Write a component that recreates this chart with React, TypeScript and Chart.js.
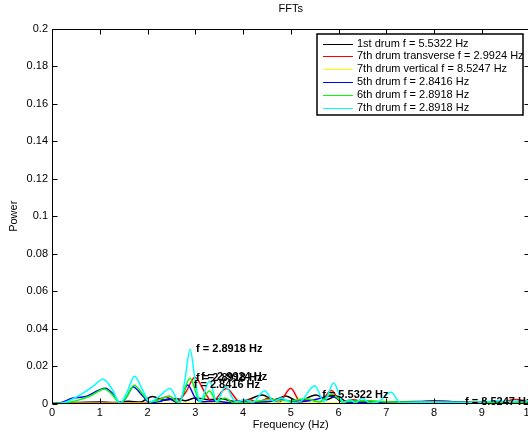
import React, { useEffect, useRef } from 'react';
import { Chart, registerables } from 'chart.js';

Chart.register(...registerables);

// ---------- Data ----------
const xTickValues = [0, 1, 2, 3, 4, 5, 6, 7, 8, 9, 10];
const yTickValues = [0, 0.02, 0.04, 0.06, 0.08, 0.1, 0.12, 0.14, 0.16, 0.18, 0.2];

const seriesNames = [
  '1st drum f = 5.5322 Hz',
  '7th drum transverse f = 2.9924 Hz',
  '7th drum vertical f = 8.5247 Hz',
  '5th drum f = 2.8416 Hz',
  '6th drum f = 2.8918 Hz',
  '7th drum f = 2.8918 Hz',
];
const seriesColors = ['#000000', '#ff0000', '#ffff00', '#0000ff', '#00ff00', '#00ffff'];

const drum1Freq = [0, 0.5, 1.0, 1.3, 1.6, 1.85, 2.1, 2.35, 2.6, 2.8, 3.0, 3.3, 3.55, 3.8, 4.1, 4.4, 4.65, 4.9, 5.15, 5.5322, 5.75, 5.95, 6.2, 6.4, 7.0, 7.5, 8.0, 9.0, 9.5, 10];
const drum1Power = [0, 0.0005, 0.0008, 0.0005, 0.0012, 0.0008, 0.0038, 0.0018, 0.0025, 0.0015, 0.003, 0.002, 0.0025, 0.0012, 0.002, 0.0045, 0.002, 0.004, 0.0012, 0.0046, 0.002, 0.004, 0.0008, 0.0015, 0.0008, 0.0005, 0.0008, 0.0005, 0.001, 0.0005];

const drum7tFreq = [0, 1.5, 2.0, 2.2, 2.4, 2.6, 2.8, 2.9924, 3.2, 3.35, 3.65, 3.95, 4.15, 4.3, 4.55, 4.75, 5.0, 5.2, 5.4, 5.6, 5.85, 6.05, 6.3, 6.6, 7.0, 7.5, 8.0, 8.5, 9.0, 9.4, 9.7, 10];
const drum7tPower = [0, 0.0003, 0.0005, 0.002, 0.0035, 0.0008, 0.006, 0.014, 0.006, 0.001, 0.008, 0.0005, 0.002, 0.0005, 0.003, 0.0005, 0.0082, 0.001, 0.002, 0.0005, 0.007, 0.001, 0.002, 0.0005, 0.001, 0.0005, 0.0015, 0.0008, 0.001, 0.0008, 0.0022, 0.001];

const drum7vFreq = [0, 1, 3, 5, 7, 8, 8.5247, 9, 10];
const drum7vPower = [0, 0.0002, 0.0003, 0.0003, 0.0004, 0.0006, 0.0009, 0.0006, 0.0004];

const drum5Freq = [0, 0.2, 0.42, 0.7, 1.12, 1.28, 1.43, 1.55, 1.7, 1.9, 2.05, 2.25, 2.45, 2.65, 2.8416, 3.0, 3.15, 3.4, 3.7, 4.0, 4.5, 4.8, 5.1, 5.5, 5.85, 6.1, 6.6, 7.0, 8.1, 9.0, 10];
const drum5Power = [0, 0.0005, 0.0028, 0.0037, 0.0082, 0.005, 0.0002, 0.003, 0.0088, 0.004, 0.0005, 0.001, 0.0025, 0.0003, 0.0099, 0.003, 0.001, 0.0012, 0.0006, 0.0008, 0.001, 0.002, 0.0008, 0.002, 0.004, 0.0008, 0.0005, 0.0008, 0.0012, 0.0005, 0.0005];

const drum6Freq = [0, 0.3, 0.55, 0.8, 1.1, 1.25, 1.43, 1.57, 1.72, 1.9, 2.05, 2.25, 2.45, 2.65, 2.8918, 3.1, 3.3, 3.45, 3.62, 3.8, 4.2, 4.6, 5.0, 5.3, 5.6, 5.85, 6.1, 6.5, 7.0, 8.0, 9.0, 10];
const drum6Power = [0, 0.0005, 0.0018, 0.004, 0.0078, 0.005, 0.0002, 0.004, 0.0098, 0.005, 0.0008, 0.002, 0.004, 0.0005, 0.0135, 0.001, 0.0067, 0.001, 0.003, 0.0005, 0.001, 0.002, 0.0015, 0.0025, 0.001, 0.005, 0.001, 0.0015, 0.001, 0.0008, 0.0005, 0.0005];

const drum7Freq = [0, 0.2, 0.4, 0.65, 0.85, 1.07, 1.25, 1.43, 1.57, 1.73, 1.9, 2.05, 2.25, 2.47, 2.68, 2.78, 2.8918, 3.0, 3.1, 3.3, 3.45, 3.63, 3.85, 4.05, 4.2, 4.45, 4.65, 4.8, 5.0, 5.2, 5.5, 5.7, 5.9, 6.1, 6.25, 6.35, 6.5, 6.65, 6.8, 7.1, 7.3, 7.6, 8.0, 8.5, 9.0, 9.3, 9.6, 10];
const drum7Power = [0, 0.0002, 0.002, 0.0055, 0.009, 0.013, 0.008, 0.0002, 0.006, 0.0145, 0.007, 0.0008, 0.004, 0.008, 0.0003, 0.012, 0.029, 0.012, 0.001, 0.012, 0.001, 0.009, 0.001, 0.002, 0.0005, 0.0068, 0.001, 0.003, 0.0005, 0.001, 0.0095, 0.001, 0.011, 0.0005, 0.002, 0.0003, 0.003, 0.0003, 0.0005, 0.006, 0.0003, 0.0005, 0.0008, 0.0005, 0.0008, 0.0015, 0.001, 0.0015];

// peak annotations (frequency, power, text)
const annFreq = [5.5322, 2.9924, 8.5247, 2.8416, 2.8918, 2.8918];
const annPower = [0.0046, 0.014, 0.0009, 0.0099, 0.0135, 0.029];
const annText = ['f = 5.5322 Hz', 'f = 2.9924 Hz', 'f = 8.5247 Hz', 'f = 2.8416 Hz', 'f = 2.8918 Hz', 'f = 2.8918 Hz'];

const FONT = 'Liberation Sans, Arial, Helvetica, sans-serif';

const seriesFreqs = [drum1Freq, drum7tFreq, drum7vFreq, drum5Freq, drum6Freq, drum7Freq];
const seriesPowers = [drum1Power, drum7tPower, drum7vPower, drum5Power, drum6Power, drum7Power];

const framePlugin = {
  id: 'matlabFrame',
  afterDatasetsDraw(chart: any) {
    const { ctx, chartArea, scales } = chart;
    const { left, right, top, bottom } = chartArea;
    const xs = scales.x;
    const ys = scales.y;
    ctx.save();
    // annotations
    ctx.fillStyle = '#000';
    ctx.font = `bold 11px ${FONT}`;
    ctx.textAlign = 'left';
    ctx.textBaseline = 'middle';
    for (let i = 0; i < annFreq.length; i++) {
      ctx.fillText(annText[i], xs.getPixelForValue(annFreq[i]) + 6, ys.getPixelForValue(annPower[i]));
    }
    // frame
    ctx.strokeStyle = '#000';
    ctx.lineWidth = 1;
    const L = Math.round(left) + 0.5;
    const R = Math.round(right) - 0.5;
    const T = Math.round(top) + 0.5;
    const B = Math.round(bottom) - 0.5;
    ctx.strokeRect(L, T, R - L, B - T);
    ctx.beginPath();
    xTickValues.forEach((v) => {
      const px = Math.round(xs.getPixelForValue(v)) + 0.5;
      ctx.moveTo(px, B);
      ctx.lineTo(px, B - 5);
      ctx.moveTo(px, T);
      ctx.lineTo(px, T + 5);
    });
    yTickValues.forEach((v) => {
      const py = Math.round(ys.getPixelForValue(v)) + 0.5;
      ctx.moveTo(L, py);
      ctx.lineTo(L + 5, py);
      ctx.moveTo(R, py);
      ctx.lineTo(R - 5, py);
    });
    ctx.stroke();
    // title
    ctx.font = `11px ${FONT}`;
    ctx.textAlign = 'center';
    ctx.fillText('FFTs', (left + right) / 2, 9);
    // legend
    const bx = 317, by = 34, bw = 206, bh = 81;
    ctx.fillStyle = '#fff';
    ctx.fillRect(bx, by, bw, bh);
    ctx.lineWidth = 1.5;
    ctx.strokeStyle = '#000';
    ctx.strokeRect(bx, by, bw, bh);
    ctx.textAlign = 'left';
    ctx.font = `11px ${FONT}`;
    seriesNames.forEach((name, i) => {
      const yy = by + 9.5 + i * 12.8;
      ctx.strokeStyle = seriesColors[i];
      ctx.lineWidth = 1;
      ctx.beginPath();
      ctx.moveTo(323, Math.round(yy) + 0.5);
      ctx.lineTo(353, Math.round(yy) + 0.5);
      ctx.stroke();
      ctx.fillStyle = '#000';
      ctx.fillText(name, 357, yy);
    });
    ctx.restore();
  },
};

export default function App() {
  const ref = useRef<HTMLCanvasElement | null>(null);
  useEffect(() => {
    if (!ref.current) return;
    Chart.defaults.font.family = FONT;
    Chart.defaults.font.size = 11;
    Chart.defaults.color = '#000';
    const datasets = seriesNames.map((name, i) => ({
      label: name,
      data: seriesFreqs[i].map((f, j) => ({ x: f, y: seriesPowers[i][j] })),
      borderColor: seriesColors[i],
      backgroundColor: seriesColors[i],
      borderWidth: 1.5,
      pointRadius: 0,
      cubicInterpolationMode: 'monotone' as const,
      fill: false,
      order: seriesNames.length - i,
    }));
    const chart = new Chart(ref.current, {
      type: 'line',
      data: { datasets },
      plugins: [framePlugin],
      options: {
        animation: false,
        responsive: false,
        devicePixelRatio: 1,
        layout: { padding: { left: 0, right: 10.5, top: 29, bottom: 0 } },
        plugins: { legend: { display: false }, title: { display: false }, tooltip: { enabled: false } },
        scales: {
          x: {
            type: 'linear',
            min: 0,
            max: 10,
            afterBuildTicks: (s: any) => { s.ticks = xTickValues.map((v) => ({ value: v })); },
            ticks: { padding: 3, maxRotation: 0, autoSkip: false, color: '#000', font: { size: 11 } },
            grid: { display: false, drawTicks: false },
            border: { display: false },
            title: { display: true, text: 'Frequency (Hz)', color: '#000', font: { size: 11 }, padding: { top: 0, bottom: 4 } },
            afterFit: (s: any) => { s.height = 32.5; },
          },
          y: {
            type: 'linear',
            min: 0,
            max: 0.2,
            afterBuildTicks: (s: any) => { s.ticks = yTickValues.map((v) => ({ value: v })); },
            ticks: {
              padding: 4,
              autoSkip: false,
              color: '#000',
              font: { size: 11 },
              callback: (v: any) => String(+Number(v).toFixed(2)),
            },
            grid: { display: false, drawTicks: false },
            border: { display: false },
            title: { display: true, text: 'Power', color: '#000', font: { size: 11 }, padding: { top: 7, bottom: 0 } },
            afterFit: (s: any) => { s.width = 52; },
          },
        },
      },
    });
    return () => chart.destroy();
  }, []);
  return (
    <div style={{ position: 'fixed', left: 0, top: 0, width: 528, height: 436, overflow: 'hidden', background: '#fff' }}>
      <canvas ref={ref} width={540} height={436} style={{ display: 'block' }} />
    </div>
  );
}
